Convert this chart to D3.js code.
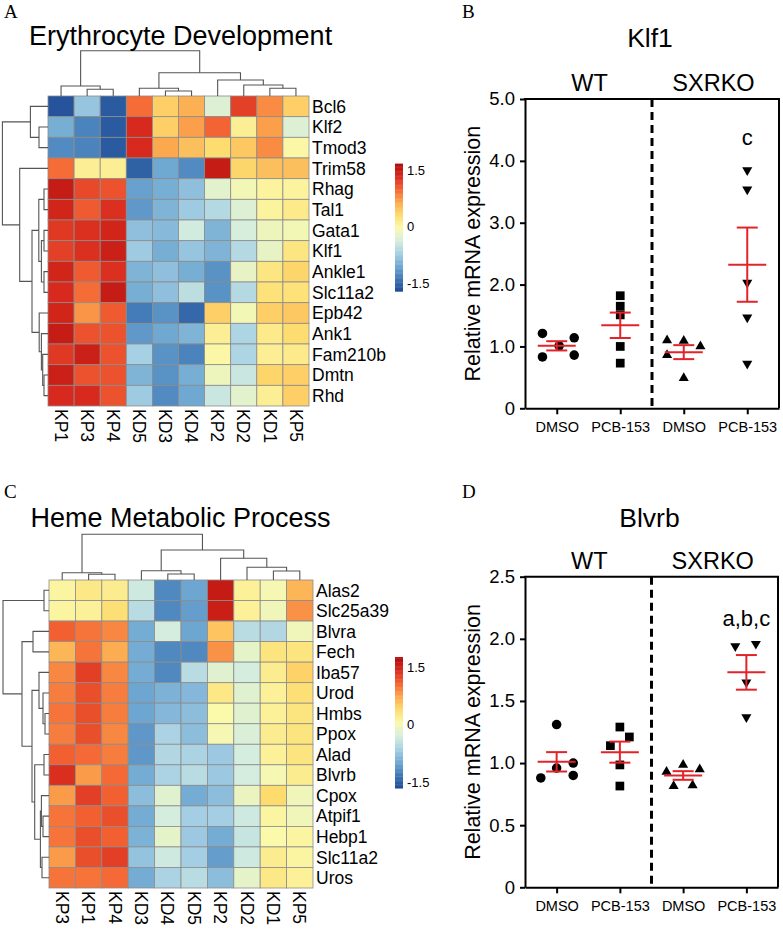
<!DOCTYPE html>
<html>
<head>
<meta charset="utf-8">
<script src="https://cdn.jsdelivr.net/npm/d3@7"></script>
<style>
body { margin: 0; background: #fff; }
svg { display: block; }
text { font-family: "Liberation Sans", Arial, sans-serif; fill: #000; }
.plab { font-family: "Liberation Serif", "Times New Roman", serif; }
</style>
</head>
<body>
<svg id="fig" width="783" height="929"></svg>
<script>
// ---------- A: Erythrocyte Development ----------
var colsA = ["KP1","KP3","KP4","KD5","KD3","KD4","KP2","KD2","KD1","KP5"];
var rowsA = ["Bcl6","Klf2","Tmod3","Trim58","Rhag","Tal1","Gata1","Klf1","Ankle1","Slc11a2","Epb42","Ank1","Fam210b","Dmtn","Rhd"];
var zA = [
  [-1.65,-0.8,-1.6, 0.95, 0.4, 0.6,-0.3, 1.2, 0.8, 0.4],
  [-1.0,-1.3,-1.6, 1.35, 0.4, 0.7, 1.0, 0.1, 0.7,-0.3],
  [-1.25,-1.3,-1.6, 1.35, 0.65, 0.5, 0.3, 0.45, 0.8, 0.0],
  [ 0.95, 0.1, 0.1,-1.55,-1.05,-1.25, 1.5, 0.35, 0.5, 0.5],
  [ 1.5, 1.15, 1.1,-1.1,-1.0,-0.85,-0.25,-0.1, 0.05, 0.05],
  [ 1.4, 1.05, 1.3,-1.15,-0.95,-0.75,-0.6,-0.3, 0.05, 0.15],
  [ 1.25, 1.3, 1.4,-0.85,-0.9,-0.4,-0.95,-0.35,-0.15,-0.1],
  [ 1.2, 1.3, 1.45,-0.75,-1.0,-0.8,-0.95,-0.6,-0.2, 0.2],
  [ 1.4, 1.05, 1.3,-0.95,-0.85,-1.0,-1.2,-0.2, 0.2, 0.35],
  [ 1.35, 0.95, 1.5,-1.0,-0.85,-0.55,-1.2,-0.6, 0.25, 0.25],
  [ 1.4, 0.75, 1.05,-1.35,-1.2,-1.5, 0.4,-0.1, 0.4, 0.45],
  [ 1.5, 1.1, 1.1,-1.15,-1.05,-0.95, 0.1,-0.65, 0.15, 0.3],
  [ 1.25, 1.45, 1.1,-0.7,-1.2,-1.3, 0.0,-0.65, 0.1, 0.15],
  [ 1.45, 1.1, 1.1,-0.95,-1.2,-1.0,-0.15,-0.45, 0.35, 0.4],
  [ 1.35, 1.35, 1.1,-0.75,-1.25,-1.05,-0.45,-0.25, 0.1, 0.4]
];
// [height, left, right]
var colTreeA = [45.3, [10, "KP1", [6.7, "KP3", "KP4"]],
  [23.3, [7.7, "KD5", [5, "KD3", "KD4"]], [16, "KP2", [11, "KD2", [7.7, "KD1", "KP5"]]]]];
var rowTreeA = [45.6, [17.6, "Bcl6", [9, "Klf2", "Tmod3"]],
  [28.3, "Trim58", [16,
    [9.2, [4, "Rhag", "Tal1"], [6.6, [4, "Gata1", "Klf1"], [4, "Ankle1", "Slc11a2"]]],
    [8.8, "Epb42", [6.6, "Ank1", [5.3, "Fam210b", [4, "Dmtn", "Rhd"]]]]]]];
var keyRangeA = [-1.72, 1.67];
var keyTicks = [1.5, 0, -1.5];

// ---------- C: Heme Metabolic Process ----------
var colsC = ["KP3","KP1","KP4","KD3","KD4","KD5","KP2","KD2","KD1","KP5"];
var rowsC = ["Alas2","Slc25a39","Blvra","Fech","Iba57","Urod","Hmbs","Ppox","Alad","Blvrb","Cpox","Atpif1","Hebp1","Slc11a2","Uros"];
var zC = [
  [ 0.1, 0.25, 0.2,-0.35,-1.2,-1.0, 1.6, 0.15, 0.0, 0.65],
  [ 0.1, 0.15, 0.35,-0.5,-1.2,-1.05, 1.55, 0.15,-0.05, 0.85],
  [ 1.1, 1.0, 0.9,-0.95,-0.3,-1.0, 0.55,-0.5,-0.55,-0.05],
  [ 0.65, 1.0, 0.7,-0.95,-1.2,-1.2, 0.85,-0.15, 0.3, 0.3],
  [ 0.9, 1.3, 0.9,-0.95,-1.2,-0.5,-0.2,-0.3, 0.2, 0.45],
  [ 0.95, 1.2, 0.95,-1.0,-0.9,-0.85, 0.25,-0.2, 0.15, 0.35],
  [ 1.0, 1.2, 0.95,-1.0,-0.85,-0.8, 0.05,-0.2, 0.15, 0.3],
  [ 0.95, 1.2, 0.9,-1.1,-0.6,-0.8, 0.0,-0.25, 0.2, 0.3],
  [ 1.1, 1.05, 0.95,-1.1,-0.55,-0.6,-0.7,-0.3, 0.15, 0.3],
  [ 1.4, 0.8, 1.05,-0.95,-0.6,-0.5,-0.7,-0.3, 0.0, 0.2],
  [ 0.8, 1.3, 1.1,-0.8,-0.2,-0.95,-0.8,-0.1, 0.4,-0.05],
  [ 1.0, 1.1, 1.2,-0.95,-0.3,-0.65,-0.65,-0.35, 0.1,-0.05],
  [ 1.0, 1.2, 1.1,-0.9,-0.15,-0.7,-0.95,-0.4, 0.05, 0.1],
  [ 0.8, 1.2, 1.3,-0.75,-0.35,-0.65,-1.05,-0.35, 0.2, 0.1],
  [ 1.0, 1.0, 1.05,-0.95,-0.6,-0.5,-0.8,-0.15, 0.25, 0.15]
];
var colTreeC = [45.7, [7.3, "KP3", [5.7, "KP1", "KP4"]],
  [30, [9.3, "KD3", [6, "KD4", "KD5"]], [21.7, "KP2", [12.7, "KD2", [9, "KD1", "KP5"]]]]];
var rowTreeC = [46, [5, "Alas2", "Slc25a39"],
  [27, [16, "Blvra", "Fech"], [17,
    [10, "Iba57", [6, "Urod", [4, "Hmbs", "Ppox"]]],
    [14.3, [5, "Alad", "Blvrb"], [8.6, [7.6, "Cpox", [6, "Atpif1", "Hebp1"]], [7, "Slc11a2", "Uros"]]]]]];
var keyRangeC = [-1.66, 1.76];

// ---------- B / D: qPCR dot plots ----------
var groups = ["wtDmso","wtPcb","koDmso","koPcb"];
var groupLabels = ["DMSO","PCB-153","DMSO","PCB-153"];
var genotypes = ["WT","SXRKO"];

var klf1Values = [
  [1.21, 1.14, 0.83, 0.86, 1.01],
  [1.82, 1.65, 1.51, 1.0, 0.73],
  [1.10, 1.09, 1.0, 0.86, 0.49],
  [3.85, 3.54, 2.03, 1.47, 0.72]
];
var klf1Slots = [
  [-0.9, 1.1, -0.9, 1.1, 0.15],
  [0, 0, 0, 0, 0],
  [-1.05, 0, 1.05, -1.05, 0],
  [0, 0, 0, 0, 0]
];
var klf1Ticks = [0, 1, 2, 3, 4, 5];
var klf1TickLabels = ["0","1.0","2.0","3.0","4.0","5.0"];
var klf1Note = {text: "c", group: "koPcb", value: 4.25};

var blvrbValues = [
  [1.31, 0.88, 0.96, 1.0, 0.9],
  [1.29, 1.21, 1.14, 0.985, 0.815],
  [0.815, 0.985, 0.82, 0.93, 0.95],
  [1.94, 1.96, 1.65, 1.37]
];
var blvrbSlots = [
  [0, -1, 0, 1.05, 1.05],
  [0, 0.6, -0.6, 0, 0],
  [-0.6, 0, 0.6, -1.05, 1.05],
  [-0.7, 0.6, 0, 0]
];
var blvrbTicks = [0, 0.5, 1, 1.5, 2, 2.5];
var blvrbTickLabels = ["0","0.5","1.0","1.5","2.0","2.5"];
var blvrbNote = {text: "a,b,c", group: "koPcb", value: 2.1};

// ---------- drawing ----------
var svg = d3.select("#fig");
var palette = ["#b10c0c","#d92b1e","#f46434","#fca84f","#fddc6e","#fbf9aa",
               "#d6eede","#a6d0e4","#70a9d2","#3f78b6","#1f4a94"];

function drawTree(g, node, leafPos, hPos, rows) {
  if (typeof node === "string") return [leafPos(node) + leafPos.bandwidth() / 2, 0];
  var a = drawTree(g, node[1], leafPos, hPos, rows);
  var b = drawTree(g, node[2], leafPos, hPos, rows);
  var h = node[0];
  var pts = [[a[0], a[1]], [a[0], h], [b[0], h], [b[0], b[1]]];
  g.append("path")
    .attr("d", d3.line()(pts.map(function(p) {
      return rows ? [hPos(p[1]), p[0]] : [p[0], hPos(p[1])];
    })));
  return [(a[0] + b[0]) / 2, h];
}

function heatmap(cfg) {
  var g = svg.append("g");
  var x = d3.scaleBand().domain(cfg.cols).range([cfg.x0, cfg.x1]);
  var y = d3.scaleBand().domain(cfg.rows).range([cfg.y0, cfg.y1]);
  var interp = d3.piecewise(d3.interpolateRgb, palette);
  var color = d3.scaleSequential(interp).domain([cfg.range[1], cfg.range[0]]);

  cfg.z.forEach(function(row, i) {
    row.forEach(function(v, j) {
      g.append("rect")
        .attr("x", x(cfg.cols[j])).attr("y", y(cfg.rows[i]))
        .attr("width", x.bandwidth()).attr("height", y.bandwidth())
        .attr("fill", color(v))
        .attr("stroke", "#8c8c8c").attr("stroke-width", 0.8);
    });
  });

  var tg = g.append("g").attr("fill", "none").attr("stroke", "#555").attr("stroke-width", 1.1);
  var hCol = d3.scaleLinear().domain([0, 45.5]).range([cfg.y0, cfg.y0 - 45.5]);
  drawTree(tg, cfg.colTree, x, hCol, false);
  var hRow = d3.scaleLinear().domain([0, 45.5]).range([cfg.x0, cfg.x0 - 45.5]);
  drawTree(tg, cfg.rowTree, y, hRow, true);

  cfg.rows.forEach(function(r) {
    g.append("text").attr("x", cfg.x1 + 3).attr("y", y(r) + y.bandwidth() / 2)
      .attr("dy", "0.36em").attr("font-size", 17.5).text(r);
  });
  cfg.cols.forEach(function(c) {
    g.append("text")
      .attr("transform", "translate(" + (x(c) + x.bandwidth() / 2) + "," + (cfg.y1 + 3) + ") rotate(90)")
      .attr("dy", "0.36em").attr("font-size", 17.5).text(c);
  });

  g.append("text").attr("x", cfg.titleX).attr("y", cfg.titleY).attr("font-size", 27).text(cfg.title);
  g.append("text").attr("class", "plab").attr("x", 4).attr("y", cfg.letterY)
    .attr("font-size", 19).text(cfg.letter);

  // colour key
  var ky = d3.scaleLinear().domain([-1.5, 1.5]).range(cfg.keyPx);
  var steps = d3.range(100).map(function(i) {
    return cfg.range[0] + (cfg.range[1] - cfg.range[0]) * i / 100;
  });
  var dv = (cfg.range[1] - cfg.range[0]) / 100;
  steps.forEach(function(v) {
    g.append("rect").attr("x", 395).attr("width", 8)
      .attr("y", ky(v + dv)).attr("height", ky(v) - ky(v + dv) + 0.4)
      .attr("fill", color(v + dv / 2));
  });
  keyTicks.forEach(function(t) {
    g.append("text").attr("x", 407).attr("y", ky(t)).attr("dy", "0.36em")
      .attr("font-size", 13).text(d3.format(".1f")(t).replace("0.0", "0").replace("−", "-"));
  });
}

var symbols = [d3.symbolCircle, d3.symbolSquare, d3.symbolTriangle, d3.symbolTriangle];
var symbolSize = [72, 76, 44, 44];

function dotPlot(cfg) {
  var g = svg.append("g");
  var x = d3.scalePoint().domain(groups).range([cfg.x0, cfg.x1]).padding(0.5);
  var y = d3.scaleLinear().domain([0, cfg.ticks[cfg.ticks.length - 1]]).range([cfg.y1, cfg.y0]);
  var mid = (cfg.x0 + cfg.x1) / 2;
  var slot = x.step() * 0.25;

  var ya = g.append("g").attr("transform", "translate(" + cfg.x0 + ",0)")
    .call(d3.axisLeft(y).tickValues(cfg.ticks).tickSize(5).tickSizeOuter(0).tickPadding(5)
      .tickFormat(function(d, i) { return cfg.tickLabels[i]; }));
  ya.selectAll("text").attr("font-size", 18.5).attr("font-family", null).attr("fill", "#000");
  ya.selectAll("line,path").attr("stroke", "#000").attr("stroke-width", 2);

  var xa = g.append("g").attr("transform", "translate(0," + cfg.y1 + ")")
    .call(d3.axisBottom(x).tickSize(6).tickSizeOuter(0).tickPadding(7)
      .tickFormat(function(d, i) { return groupLabels[i]; }));
  xa.selectAll("text").attr("font-size", 14.5).attr("font-family", null).attr("fill", "#000");
  xa.selectAll("line,path").attr("stroke", "#000").attr("stroke-width", 2);

  g.append("path").attr("fill", "none").attr("stroke", "#000").attr("stroke-width", 2)
    .attr("d", d3.line()([[cfg.x0 - 1, y.range()[1]], [cfg.x1, y.range()[1]], [cfg.x1, cfg.y1]]));
  g.append("line").attr("x1", mid).attr("x2", mid).attr("y1", y.range()[1]).attr("y2", cfg.y1)
    .attr("stroke", "#000").attr("stroke-width", 3).attr("stroke-dasharray", "8,5");

  cfg.values.forEach(function(vals, gi) {
    var cx = x(groups[gi]);
    vals.forEach(function(v, k) {
      g.append("path")
        .attr("d", d3.symbol().type(symbols[gi]).size(symbolSize[gi])())
        .attr("transform", "translate(" + (cx + cfg.slots[gi][k] * slot) + "," + y(v) + ")" + (gi === 3 ? " rotate(180)" : ""))
        .attr("fill", "#000");
    });
    var m = d3.mean(vals), se = d3.deviation(vals) / Math.sqrt(vals.length);
    var eb = g.append("g").attr("stroke", "#e3232a").attr("stroke-width", 2);
    eb.append("line").attr("x1", cx - 19).attr("x2", cx + 19).attr("y1", y(m)).attr("y2", y(m));
    eb.append("line").attr("x1", cx).attr("x2", cx).attr("y1", y(m - se)).attr("y2", y(m + se));
    [m - se, m + se].forEach(function(e) {
      eb.append("line").attr("x1", cx - 10.5).attr("x2", cx + 10.5).attr("y1", y(e)).attr("y2", y(e));
    });
  });

  g.append("text").attr("x", x(cfg.note.group)).attr("y", y(cfg.note.value))
    .attr("text-anchor", "middle").attr("font-size", 22).text(cfg.note.text);

  genotypes.forEach(function(gt, i) {
    g.append("text").attr("x", i === 0 ? (cfg.x0 + mid) / 2 + 1 : (mid + cfg.x1) / 2 - 2)
      .attr("y", y.range()[1] - 8).attr("text-anchor", "middle").attr("font-size", 23.5).text(gt);
  });
  g.append("text").attr("x", mid - 2).attr("y", cfg.titleY).attr("text-anchor", "middle")
    .attr("font-size", 26.5).text(cfg.title);
  g.append("text").attr("transform", "translate(480," + ((cfg.y0 + cfg.y1) / 2) + ") rotate(-90)")
    .attr("text-anchor", "middle").attr("font-size", 21.5).text("Relative mRNA expression");
  g.append("text").attr("class", "plab").attr("x", 462).attr("y", cfg.letterY)
    .attr("font-size", 19).text(cfg.letter);
}

heatmap({cols: colsA, rows: rowsA, z: zA, colTree: colTreeA, rowTree: rowTreeA,
  x0: 48, x1: 309, y0: 96, y1: 406, range: keyRangeA, keyPx: [283, 170],
  title: "Erythrocyte Development", titleX: 29, titleY: 45, letter: "A", letterY: 18});
heatmap({cols: colsC, rows: rowsC, z: zC, colTree: colTreeC, rowTree: rowTreeC,
  x0: 49, x1: 313, y0: 580, y1: 888, range: keyRangeC, keyPx: [782, 667],
  title: "Heme Metabolic Process", titleX: 30.5, titleY: 526.5, letter: "C", letterY: 498});

dotPlot({values: klf1Values, slots: klf1Slots, ticks: klf1Ticks, tickLabels: klf1TickLabels,
  note: klf1Note, x0: 525, x1: 779, y0: 99, y1: 408.3, title: "Klf1", titleY: 47, letter: "B", letterY: 18});
dotPlot({values: blvrbValues, slots: blvrbSlots, ticks: blvrbTicks, tickLabels: blvrbTickLabels,
  note: blvrbNote, x0: 525, x1: 778, y0: 576.7, y1: 887.3, title: "Blvrb", titleY: 526.5, letter: "D", letterY: 498});
</script>
</body>
</html>
